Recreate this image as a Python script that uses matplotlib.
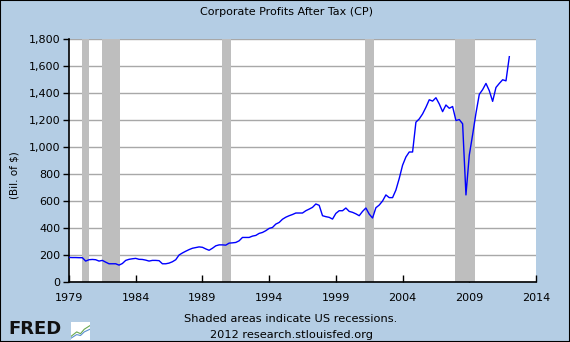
import numpy as np
import matplotlib
matplotlib.use('Agg')
import matplotlib.pyplot as plt
from matplotlib.ticker import FuncFormatter

# quarterly corporate profits after tax, bil. of $, 1979Q1 .. 2012Q1
profits = [182, 181, 181, 180,
           180, 155, 165, 167,
           165, 155, 160, 147,
           135, 135, 135, 125,
           137, 160, 168, 172,
           175, 168, 167, 162,
           155, 160, 160, 158,
           135, 135, 140, 150,
           165, 200, 215, 228,
           240, 250, 255, 260,
           257, 245, 235, 250,
           268, 275, 275, 273,
           288, 290, 293, 305,
           330, 330, 330, 340,
           345, 360, 367, 380,
           397, 404, 429, 441,
           465, 480, 491, 500,
           511, 511, 511, 528,
           540, 553, 578, 568,
           491, 484, 479, 466,
           508, 528, 528, 548,
           523, 516, 505, 491,
           523, 548, 503, 474,
           550, 570, 600, 645,
           625, 625, 681, 767,
           865, 926, 963, 963,
           1184, 1208, 1245, 1294,
           1350, 1340, 1365, 1319,
           1262, 1311, 1287, 1300,
           1196, 1203, 1172, 645,
           940, 1091, 1250, 1390,
           1425, 1471, 1417, 1338,
           1441, 1471, 1498, 1490,
           1669]
start_year = 1979
years = start_year + np.arange(len(profits)) / 4.0

# recession start / end as decimal years
rec_start = [1980.0, 1981.5, 1990.5, 2001.17, 2007.92]
rec_end = [1980.5, 1982.83, 1991.17, 2001.83, 2009.42]

x_ticks = [1979, 1984, 1989, 1994, 1999, 2004, 2009, 2014]
y_ticks = np.arange(0, 1801, 200)

bg = '#B4CDE4'
fig = plt.figure(figsize=(5.7, 3.42), dpi=100, facecolor=bg)
ax = fig.add_axes([69/570, 1-282/342, (536-69)/570, (282-39)/342])
ax.set_facecolor('white')

for s, e in zip(rec_start, rec_end):
    ax.axvspan(s, e, color='#BEBEBE', lw=0, zorder=1)

ax.set_yticks(y_ticks)
ax.yaxis.grid(True, color='#A8A8A8', lw=1, zorder=0)
ax.set_axisbelow(True)
ax.plot(years, profits, color='#0000FF', lw=1, zorder=3)

ax.set_xlim(1979, 2014)
ax.set_ylim(0, 1800)
ax.set_xticks(x_ticks)
ax.yaxis.set_major_formatter(FuncFormatter(lambda v, p: '{:,.0f}'.format(v)))
ax.tick_params(axis='x', direction='in', length=5, width=1, labelsize=8, pad=8)
ax.tick_params(axis='y', direction='out', length=4, width=1, labelsize=8, pad=2)
for sp in ['top', 'right']:
    ax.spines[sp].set_visible(False)
for sp in ['left', 'bottom']:
    ax.spines[sp].set_linewidth(1.2)
ax.set_ylabel('(Bil. of $)', fontsize=7.5)
ax.yaxis.set_label_coords(-0.105, 0.44)

fig.text(286/570, 1-12/342, 'Corporate Profits After Tax (CP)', ha='center', va='center', fontsize=8)
fig.text(291/570, 1-319/342, 'Shaded areas indicate US recessions.', ha='center', va='center', fontsize=8.2)
fig.text(291/570, 1-335/342, '2012 research.stlouisfed.org', ha='center', va='center', fontsize=8.2)

# FRED logo
fig.text(8/570, 1-329/342, 'FRED', ha='left', va='center', fontsize=13, fontweight='bold', color='#111111')
icon = fig.add_axes([71/570, 1-340/342, 19/570, 18/342])
icon.set_facecolor('white')
icon.plot([0, 0.3, 0.5, 0.7, 1], [0.2, 0.45, 0.35, 0.6, 0.8], color='#6AA84F', lw=0.8)
icon.plot([0, 0.3, 0.5, 0.7, 1], [0.1, 0.3, 0.25, 0.45, 0.6], color='#5B8FD0', lw=0.8)
icon.set_xlim(0, 1)
icon.set_ylim(0, 1)
icon.set_xticks([])
icon.set_yticks([])
for sp in icon.spines.values():
    sp.set_visible(False)

border = plt.Rectangle((0, 0), 1, 1, transform=fig.transFigure, fill=False, ec='black', lw=1.5)
fig.patches.append(border)

fig.savefig('out.png', dpi=100, facecolor=bg)
